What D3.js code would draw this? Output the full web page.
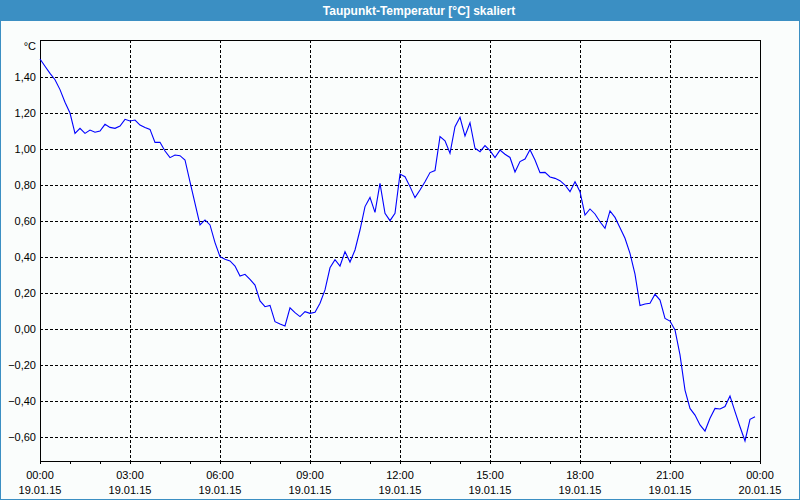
<!DOCTYPE html>
<html><head><meta charset="utf-8">
<script src="https://cdn.jsdelivr.net/npm/d3@7"></script>
<style>body{margin:0;background:#fff;overflow:hidden}text{font-family:"Liberation Sans",Arial,sans-serif}</style>
</head><body>
<svg id="c" width="800" height="500"></svg>
<script>
const title = "Taupunkt-Temperatur [°C] skaliert";
const unitLabel = "°C";
const stepMinutes = 10;
const dewPoint = [
 1.50,1.46,1.42,1.385,1.33,1.26,1.20,1.087,1.115,1.087,
 1.105,1.093,1.10,1.137,1.12,1.115,1.128,1.165,1.156,1.161,
 1.133,1.12,1.109,1.037,1.037,0.989,0.952,0.967,0.963,0.939,
 0.818,0.698,0.578,0.606,0.578,0.48,0.402,0.387,0.378,0.35,
 0.294,0.304,0.276,0.244,0.156,0.124,0.131,0.041,0.028,0.017,
 0.118,0.091,0.069,0.096,0.087,0.093,0.143,0.217,0.34,0.385,
 0.35,0.43,0.372,0.439,0.55,0.68,0.731,0.648,0.809,0.643,
 0.602,0.643,0.861,0.846,0.791,0.73,0.772,0.818,0.869,0.88,
 1.069,1.046,0.976,1.124,1.176,1.072,1.146,1.004,0.985,1.019,
 0.991,0.952,0.994,0.971,0.953,0.872,0.93,0.944,0.996,0.939,
 0.869,0.87,0.845,0.837,0.824,0.80,0.763,0.818,0.763,0.633,
 0.667,0.639,0.596,0.559,0.656,0.62,0.563,0.504,0.42,0.305,
 0.13,0.139,0.143,0.193,0.161,0.059,0.044,-0.005,-0.144,-0.339,
 -0.441,-0.478,-0.533,-0.567,-0.496,-0.441,-0.444,-0.431,-0.372,-0.459,
 -0.543,-0.622,-0.502,-0.487
];
const yTicks = [-0.6,-0.4,-0.2,0,0.2,0.4,0.6,0.8,1.0,1.2,1.4];
const yDomain = [-0.7333, 1.6056];
const xDomain = [0, 24];
const xMinorHours = d3.range(0, 25, 1);
const xTickHours = [0,3,6,9,12,15,18,21,24];
const xTickTimes = ["00:00","03:00","06:00","09:00","12:00","15:00","18:00","21:00","00:00"];
const xTickDates = ["19.01.15","19.01.15","19.01.15","19.01.15","19.01.15","19.01.15","19.01.15","19.01.15","20.01.15"];

const W = 800, H = 500;
const m = {left:40, right:40, top:40, bottom:39};
const svg = d3.select("#c");
const pw = W - m.left - m.right, ph = H - m.top - m.bottom;

svg.append("rect").attr("x",0).attr("y",0).attr("width",W).attr("height",H).attr("fill","#fafdfc");
svg.append("rect").attr("x",0.5).attr("y",0.5).attr("width",W-1).attr("height",H-1)
  .attr("fill","none").attr("stroke","#3b8fc3").attr("stroke-width",1);
svg.append("rect").attr("x",0).attr("y",0).attr("width",W).attr("height",21).attr("fill","#3b8fc3");
svg.append("text").attr("x",419).attr("y",15).attr("text-anchor","middle")
  .attr("fill","#fff").attr("font-weight","bold").attr("font-size","12px").text(title);

const x = d3.scaleLinear().domain(xDomain).range([m.left, m.left+pw]);
const y = d3.scaleLinear().domain(yDomain).range([m.top+ph, m.top]);
const fmt = d3.formatLocale({decimal:",",thousands:".",grouping:[3],currency:["","€"]}).format(".2f");

// horizontal grid
const gy = svg.append("g").attr("transform",`translate(${m.left},0)`)
  .call(d3.axisLeft(y).tickValues(yTicks).tickSize(-pw).tickFormat(""));
gy.select(".domain").remove();
gy.selectAll("line").attr("stroke","#000").attr("stroke-dasharray","3,2").attr("shape-rendering","crispEdges");

// vertical grid
const gx = svg.append("g").attr("transform",`translate(0,${m.top})`)
  .call(d3.axisBottom(x).tickValues(xTickHours.slice(1,-1)).tickSize(ph).tickFormat(""));
gx.select(".domain").remove();
gx.selectAll("line").attr("stroke","#000").attr("stroke-dasharray","3,2").attr("shape-rendering","crispEdges");

// y labels
const yl = svg.append("g").attr("transform",`translate(${m.left-4},0)`)
  .call(d3.axisLeft(y).tickValues(yTicks).tickSize(0).tickPadding(0).tickFormat(fmt));
yl.select(".domain").remove();
yl.selectAll("text").attr("font-size","11px").attr("fill","#000").attr("font-family","Liberation Sans, Arial, sans-serif");

svg.append("text").attr("x",m.left-4).attr("y",50).attr("text-anchor","end")
  .attr("font-size","11px").attr("fill","#000").text(unitLabel);

// minor ticks
const xa = svg.append("g").attr("transform",`translate(0,${m.top+ph})`)
  .call(d3.axisBottom(x).tickValues(xMinorHours).tickSize(3).tickFormat(""));
xa.select(".domain").remove();
xa.selectAll("line").attr("stroke","#000").attr("shape-rendering","crispEdges");

// x labels
const lab = svg.append("g");
xTickHours.forEach((h,i)=>{
  lab.append("text").attr("x",x(h)).attr("y",479).attr("text-anchor","middle")
    .attr("font-size","11px").attr("fill","#000").text(xTickTimes[i]);
  lab.append("text").attr("x",x(h)).attr("y",494).attr("text-anchor","middle")
    .attr("font-size","11px").attr("fill","#000").text(xTickDates[i]);
});

// frame
svg.append("rect").attr("x",m.left+0.5).attr("y",m.top+0.5).attr("width",pw).attr("height",ph)
  .attr("fill","none").attr("stroke","#000").attr("stroke-width",1.2).attr("shape-rendering","crispEdges");

// line
const line = d3.line().x((d,i)=>x(i*stepMinutes/60)).y(d=>y(d));
svg.append("path").datum(dewPoint).attr("d",line).attr("fill","none")
  .attr("stroke","#0000ff").attr("stroke-width",1.1);
</script>
</body></html>
